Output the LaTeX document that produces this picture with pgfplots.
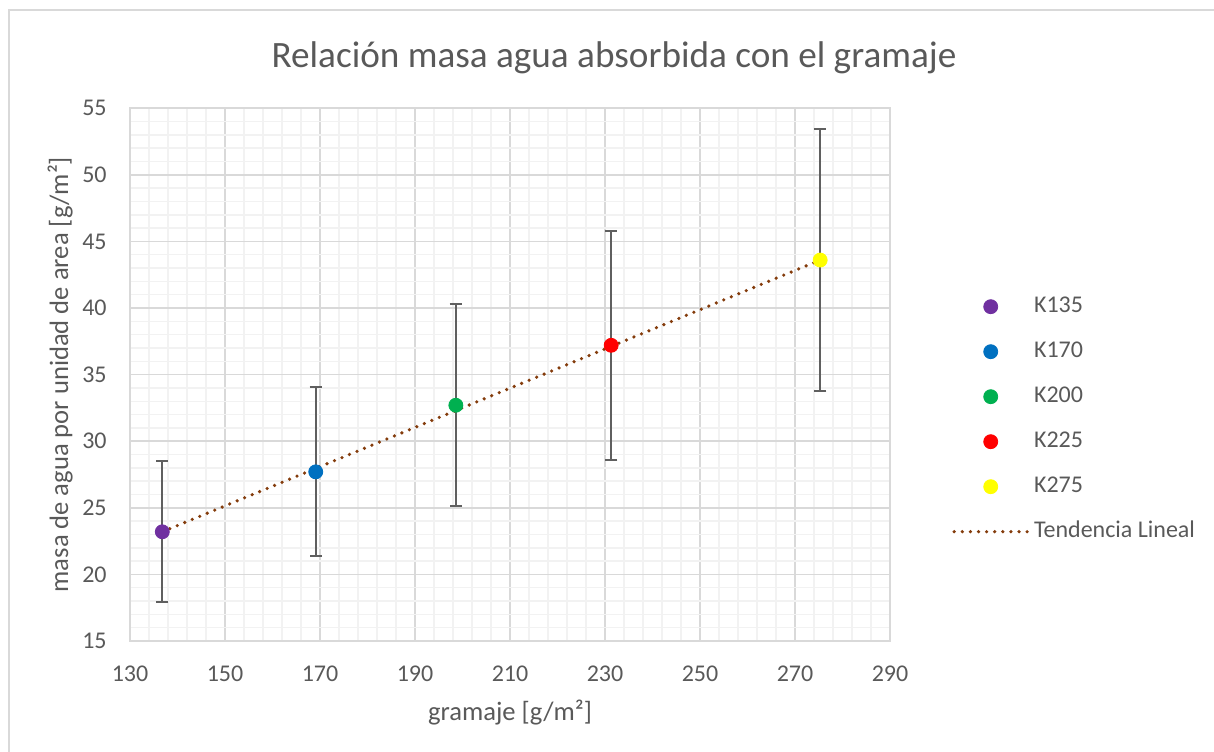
\documentclass[border=0pt]{standalone}
\usepackage{fontspec}
\setmainfont{Carlito}
\usepackage{pgfplots}
\pgfplotsset{compat=1.18}
\definecolor{txtgray}{HTML}{595959}
\definecolor{majgrid}{HTML}{D9D9D9}
\definecolor{mingrid}{HTML}{F2F2F2}
\definecolor{errgray}{HTML}{5F5F5F}
\definecolor{kpurple}{HTML}{7030A0}
\definecolor{kblue}{HTML}{0070C0}
\definecolor{kgreen}{HTML}{00B050}
\definecolor{kred}{HTML}{FF0000}
\definecolor{kyellow}{HTML}{FFFF00}
\definecolor{trend}{HTML}{843C0C}
\pgfplotsset{
  kpoint/.style={only marks, mark=*, mark size=3.5pt, mark options={draw=#1, fill=#1},
    error bars/.cd, y dir=both, y explicit,
    error bar style={errgray, line width=1pt},
    error mark options={rotate=90, mark size=3.1pt, line width=1pt, errgray},
    /pgfplots/.cd,
    legend image code/.code={\draw[mark repeat=2,mark phase=2,##1] plot coordinates {(0pt,0pt) (18.25pt,0pt) (36.5pt,0pt)};}},
  trendleg/.style={legend image code/.code={\draw[##1] (0pt,0pt) -- (36.5pt,0pt);}},
}
\begin{document}
\begin{tikzpicture}
\path[use as bounding box] (-65pt,-55pt) rectangle (542pt,320.5pt);
\draw[majgrid, line width=0.75pt] (-60.5pt,315.6pt) rectangle (600pt,-80pt);
\begin{axis}[
scale only axis,
width=380pt,
height=266.4pt,
xmin=130, xmax=290,
ymin=15, ymax=55,
xtick={130,150,...,290},
ytick={15,20,...,55},
minor x tick num=4,
minor y tick num=4,
major tick length=0pt,
minor tick length=0pt,
grid=both,
major grid style={majgrid, line width=0.75pt},
minor grid style={mingrid, line width=0.75pt},
axis line style={majgrid, line width=0.75pt},
font=\fontsize{12}{14}\selectfont,
tick label style={txtgray, font=\fontsize{12}{14}\selectfont},
/pgf/number format/assume math mode=true,
xticklabel style={anchor=center, inner sep=0pt, yshift=-16.25pt},
yticklabel style={anchor=east, inner sep=0pt, xshift=-11.5pt},
xlabel={gramaje [g/m²]},
ylabel={masa de agua por unidad de area [g/m²]},
xlabel style={txtgray, font=\fontsize{13.3}{15}\selectfont, at={(axis description cs:0.5,-0.135)}, anchor=center},
ylabel style={txtgray, font=\fontsize{13.3}{15}\selectfont, at={(axis description cs:-0.092,0.5)}, anchor=center},
title={Relación masa agua absorbida con el gramaje},
title style={txtgray, font=\fontsize{18.6}{21}\selectfont, at={(axis description cs:0.5,1)}, anchor=center, yshift=19pt, xshift=52pt},
legend style={draw=none, fill=none, at={(axis description cs:1.0816,0.647)}, anchor=north west,
  inner sep=0pt, row sep=12.5pt, column sep=2.5pt,
  nodes={inner sep=0pt, text height=8pt, text depth=2pt, txtgray, font=\fontsize{12}{14}\selectfont},
  cells={anchor=west}},
]
\addplot+[kpoint=kpurple] coordinates {(136.8,23.2) +- (0,5.3)};
\addlegendentry{K135}
\addplot+[kpoint=kblue] coordinates {(169.1,27.7) +- (0,6.35)};
\addlegendentry{K170}
\addplot+[kpoint=kgreen] coordinates {(198.6,32.7) +- (0,7.6)};
\addlegendentry{K200}
\addplot+[kpoint=kred] coordinates {(231.3,37.2) +- (0,8.6)};
\addlegendentry{K225}
\addplot+[kpoint=kyellow] coordinates {(275.3,43.6) +- (0,9.85)};
\addlegendentry{K275}
\addplot[trend, line width=1.8pt, line cap=round, dash pattern=on 0pt off 4.05pt, no marks, trendleg]
  coordinates {(136.8,23.2) (275.3,43.6)};
\addlegendentry{Tendencia Lineal}
\end{axis}
\end{tikzpicture}
\end{document}
